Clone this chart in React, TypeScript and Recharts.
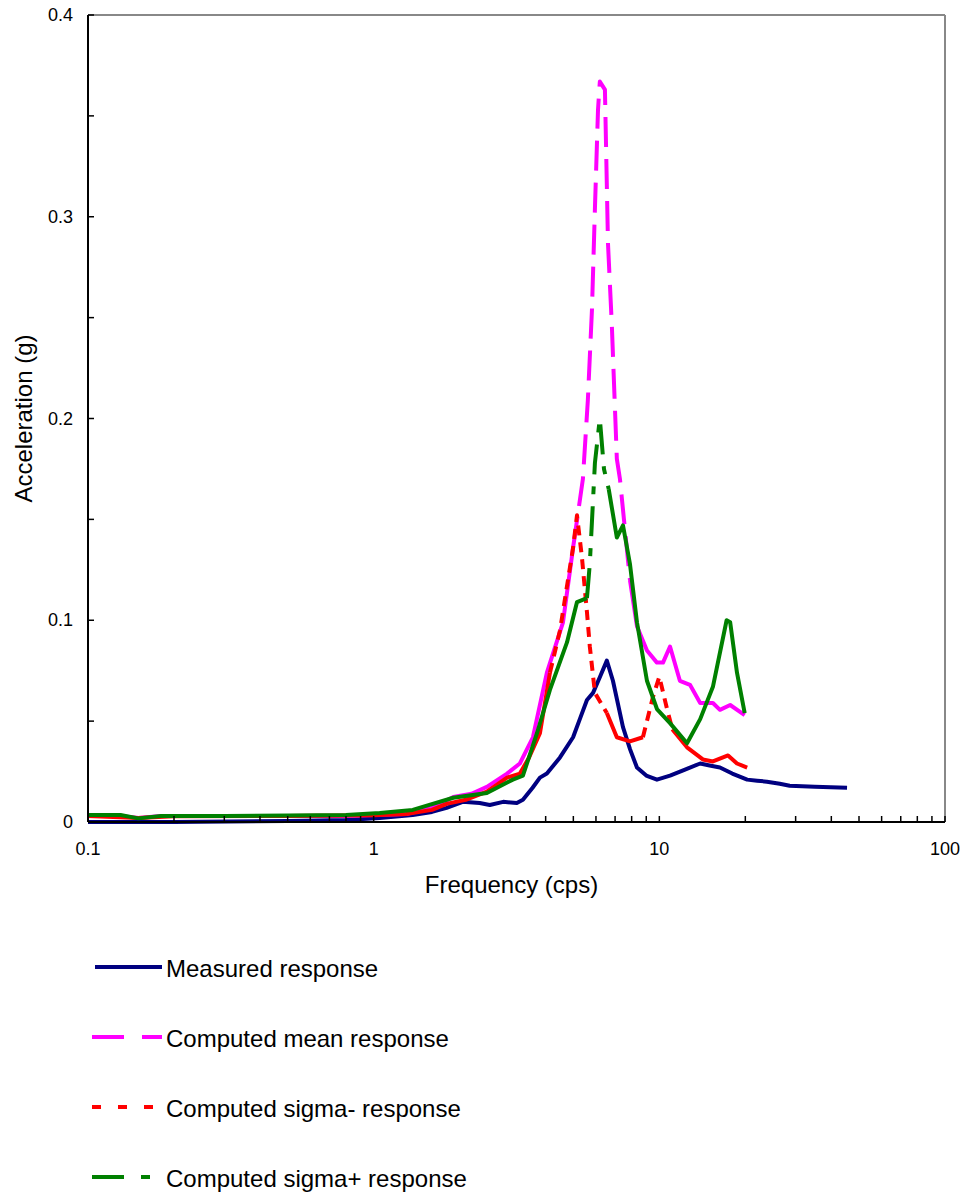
import React from "react";
import {
  LineChart,
  Line,
  XAxis,
  YAxis,
  ReferenceLine,
} from "recharts";

// frequency (cps) / acceleration (g) pairs
const measured = [
  { f: 0.1, a: 0.0 }, { f: 0.2, a: 0.0 }, { f: 0.5, a: 0.0005 }, { f: 0.8, a: 0.001 },
  { f: 1.05, a: 0.002 }, { f: 1.37, a: 0.0035 }, { f: 1.6, a: 0.005 }, { f: 1.8, a: 0.007 },
  { f: 2.05, a: 0.01 }, { f: 2.35, a: 0.0094 }, { f: 2.55, a: 0.0084 }, { f: 2.84, a: 0.01 },
  { f: 3.17, a: 0.0094 }, { f: 3.33, a: 0.011 }, { f: 3.6, a: 0.017 }, { f: 3.82, a: 0.022 },
  { f: 4.04, a: 0.024 }, { f: 4.49, a: 0.032 }, { f: 4.99, a: 0.042 }, { f: 5.3, a: 0.052 },
  { f: 5.58, a: 0.0605 }, { f: 5.86, a: 0.064 }, { f: 6.2, a: 0.072 }, { f: 6.55, a: 0.08 },
  { f: 6.88, a: 0.07 }, { f: 7.46, a: 0.047 }, { f: 7.9, a: 0.036 }, { f: 8.35, a: 0.027 },
  { f: 9.0, a: 0.023 }, { f: 9.81, a: 0.021 }, { f: 10.9, a: 0.023 }, { f: 12.3, a: 0.026 },
  { f: 13.9, a: 0.029 }, { f: 15.0, a: 0.028 }, { f: 16.3, a: 0.027 }, { f: 18.0, a: 0.024 },
  { f: 20.3, a: 0.021 }, { f: 22.0, a: 0.0205 }, { f: 23.8, a: 0.02 }, { f: 26.4, a: 0.019 },
  { f: 28.6, a: 0.018 }, { f: 35.0, a: 0.0175 }, { f: 45.4, a: 0.017 },
];

const computedMean = [
  { f: 0.1, a: 0.003 }, { f: 0.13, a: 0.003 }, { f: 0.15, a: 0.002 }, { f: 0.18, a: 0.003 },
  { f: 0.3, a: 0.003 }, { f: 0.5, a: 0.003 }, { f: 0.8, a: 0.003 }, { f: 1.0, a: 0.0035 },
  { f: 1.3, a: 0.004 }, { f: 1.6, a: 0.007 }, { f: 1.9, a: 0.0124 }, { f: 2.2, a: 0.014 },
  { f: 2.49, a: 0.0174 }, { f: 2.93, a: 0.024 }, { f: 3.25, a: 0.029 }, { f: 3.61, a: 0.042 },
  { f: 4.04, a: 0.074 }, { f: 4.6, a: 0.099 }, { f: 4.99, a: 0.136 }, { f: 5.4, a: 0.17 },
  { f: 5.62, a: 0.209 }, { f: 5.81, a: 0.254 }, { f: 5.95, a: 0.304 }, { f: 6.1, a: 0.353 },
  { f: 6.19, a: 0.367 }, { f: 6.45, a: 0.363 }, { f: 6.61, a: 0.287 }, { f: 6.82, a: 0.246 },
  { f: 7.1, a: 0.18 }, { f: 7.28, a: 0.17 }, { f: 7.89, a: 0.12 }, { f: 8.35, a: 0.097 },
  { f: 9.05, a: 0.085 }, { f: 9.81, a: 0.079 }, { f: 10.3, a: 0.079 }, { f: 10.9, a: 0.087 },
  { f: 11.8, a: 0.07 }, { f: 12.8, a: 0.068 }, { f: 13.9, a: 0.059 }, { f: 15.4, a: 0.059 },
  { f: 16.3, a: 0.0556 }, { f: 17.7, a: 0.058 }, { f: 19.9, a: 0.053 },
];

const computedSigmaMinus = [
  { f: 0.1, a: 0.003 }, { f: 0.15, a: 0.002 }, { f: 0.2, a: 0.0028 }, { f: 0.5, a: 0.003 },
  { f: 1.0, a: 0.0033 }, { f: 1.3, a: 0.004 }, { f: 1.6, a: 0.006 }, { f: 1.8, a: 0.009 },
  { f: 2.1, a: 0.011 }, { f: 2.49, a: 0.015 }, { f: 2.93, a: 0.022 }, { f: 3.25, a: 0.024 },
  { f: 3.5, a: 0.032 }, { f: 3.82, a: 0.044 }, { f: 4.14, a: 0.074 }, { f: 4.49, a: 0.095 },
  { f: 4.99, a: 0.136 }, { f: 5.15, a: 0.152 }, { f: 5.36, a: 0.131 }, { f: 5.58, a: 0.104 },
  { f: 5.71, a: 0.087 }, { f: 5.95, a: 0.064 }, { f: 6.55, a: 0.054 }, { f: 7.1, a: 0.042 },
  { f: 7.89, a: 0.04 }, { f: 8.76, a: 0.042 }, { f: 9.5, a: 0.062 }, { f: 10.0, a: 0.072 },
  { f: 10.6, a: 0.057 }, { f: 11.1, a: 0.046 }, { f: 12.5, a: 0.037 }, { f: 14.2, a: 0.031 },
  { f: 15.4, a: 0.03 }, { f: 17.4, a: 0.033 }, { f: 18.7, a: 0.029 }, { f: 20.3, a: 0.027 },
];

const computedSigmaPlus = [
  { f: 0.1, a: 0.0035 }, { f: 0.13, a: 0.0035 }, { f: 0.15, a: 0.0018 }, { f: 0.18, a: 0.003 },
  { f: 0.3, a: 0.003 }, { f: 0.5, a: 0.0032 }, { f: 0.8, a: 0.0035 }, { f: 1.05, a: 0.0045 },
  { f: 1.37, a: 0.006 }, { f: 1.9, a: 0.012 }, { f: 2.49, a: 0.0144 }, { f: 3.07, a: 0.021 },
  { f: 3.33, a: 0.023 }, { f: 3.73, a: 0.044 }, { f: 4.14, a: 0.0655 }, { f: 4.75, a: 0.089 },
  { f: 5.15, a: 0.109 }, { f: 5.58, a: 0.111 }, { f: 5.71, a: 0.128 }, { f: 5.95, a: 0.178 },
  { f: 6.19, a: 0.2 }, { f: 6.4, a: 0.175 }, { f: 6.65, a: 0.165 }, { f: 7.1, a: 0.141 },
  { f: 7.46, a: 0.147 }, { f: 7.89, a: 0.128 }, { f: 8.35, a: 0.099 }, { f: 9.05, a: 0.07 },
  { f: 9.81, a: 0.056 }, { f: 10.9, a: 0.049 }, { f: 12.5, a: 0.039 }, { f: 13.9, a: 0.051 },
  { f: 15.4, a: 0.067 }, { f: 17.2, a: 0.1 }, { f: 17.7, a: 0.099 }, { f: 18.7, a: 0.074 },
  { f: 19.9, a: 0.054 },
];

const freqMajorTicks = [0.1, 1, 10, 100];
const freqTicks = [
  0.1, 0.2, 0.3, 0.4, 0.5, 0.6, 0.7, 0.8, 0.9,
  1, 2, 3, 4, 5, 6, 7, 8, 9,
  10, 20, 30, 40, 50, 60, 70, 80, 90, 100,
];
const accMajorTicks = [0, 0.1, 0.2, 0.3, 0.4];
const accTicks = [0, 0.05, 0.1, 0.15, 0.2, 0.25, 0.3, 0.35, 0.4];

// the original's dash pattern only shows where the points are far apart,
// so the dashes are kept to these frequency spans and the rest is solid
const series = [
  { name: "Measured response", data: measured, color: "#000080", dash: undefined, legendDash: undefined, dashedSpans: [] as number[][] },
  { name: "Computed mean response", data: computedMean, color: "#ff00ff", dash: "30 12", legendDash: "32 18", dashedSpans: [[4.99, 7.89]] },
  { name: "Computed sigma- response", data: computedSigmaMinus, color: "#ff0000", dash: "10 7", legendDash: "9 17", dashedSpans: [[4.14, 6.55], [8.76, 11.1]] },
  { name: "Computed sigma+ response", data: computedSigmaPlus, color: "#008000", dash: "30 12 8 12", legendDash: "32 17 9 17", dashedSpans: [[5.58, 6.65]] },
];

type Pt = { f: number; a: number };

function splitByDash(data: Pt[], spans: number[][]) {
  const parts: { pts: Pt[]; dashed: boolean }[] = [];
  let cur: Pt[] = [];
  let curDashed = false;
  const inSpan = (i: number) => {
    if (i >= data.length - 1) return false;
    const lo = data[i].f;
    const hi = data[i + 1].f;
    return spans.some(([s, e]) => lo >= s && hi <= e);
  };
  for (let i = 0; i < data.length - 1; i++) {
    const d = inSpan(i);
    if (cur.length === 0) {
      cur = [data[i]];
      curDashed = d;
    } else if (d !== curDashed) {
      parts.push({ pts: cur, dashed: curDashed });
      cur = [data[i]];
      curDashed = d;
    }
    cur.push(data[i + 1]);
  }
  if (cur.length) parts.push({ pts: cur, dashed: curDashed });
  return parts;
}

const FONT = '"Liberation Sans", Arial, sans-serif';

const FreqTick = (props: any) => {
  const { x, y, payload } = props;
  const major = freqMajorTicks.includes(payload.value);
  return (
    <g>
      <line x1={x} x2={x} y1={y} y2={y - 6} stroke="#000" strokeWidth={1.5} />
      {major && (
        <text x={x} y={y + 33} textAnchor="middle" fontSize={18} fill="#000">
          {payload.value}
        </text>
      )}
    </g>
  );
};

const AccTick = (props: any) => {
  const { x, y, payload } = props;
  const major = accMajorTicks.some((t) => Math.abs(t - payload.value) < 1e-9);
  return (
    <g>
      <line x1={x} x2={x + 6} y1={y} y2={y} stroke="#000" strokeWidth={1.5} />
      {major && (
        <text x={x - 15} y={y + 6} textAnchor="end" fontSize={18} fill="#000">
          {payload.value}
        </text>
      )}
    </g>
  );
};

export default function App() {
  return (
    <div
      style={{
        position: "absolute",
        left: 0,
        top: 0,
        width: 968,
        height: 1195,
        background: "#fff",
        fontFamily: FONT,
      }}
    >
      <LineChart
        width={968}
        height={900}
        margin={{ top: 15, right: 23, left: 0, bottom: 0 }}
      >
        <XAxis
          dataKey="f"
          type="number"
          scale="log"
          domain={[0.1, 100]}
          allowDataOverflow
          ticks={freqTicks}
          interval={0}
          height={78}
          tickSize={0}
          tickMargin={0}
          tickLine={false}
          tick={<FreqTick />}
          axisLine={{ stroke: "#000", strokeWidth: 2 }}
          label={{
            value: "Frequency (cps)",
            position: "insideBottom",
            offset: 7,
            dx: -5,
            fontSize: 24,
            fill: "#000",
          }}
        />
        <YAxis
          dataKey="a"
          type="number"
          domain={[0, 0.4]}
          ticks={accTicks}
          interval={0}
          width={88}
          tickSize={0}
          tickMargin={0}
          tickLine={false}
          tick={<AccTick />}
          axisLine={{ stroke: "#000", strokeWidth: 2 }}
          label={{
            value: "Acceleration (g)",
            angle: -90,
            position: "insideLeft",
            offset: 23,
            fontSize: 24,
            fill: "#000",
            style: { textAnchor: "middle" },
          }}
        />
        <ReferenceLine y={0.4} stroke="#888" strokeWidth={2} />
        <ReferenceLine x={100} stroke="#888" strokeWidth={2} />
        {series.flatMap((s) =>
          splitByDash(s.data, s.dashedSpans).map((part, j) => (
            <Line
              key={`${s.name}-${j}`}
              data={part.pts}
              dataKey="a"
              name={s.name}
              type="linear"
              stroke={s.color}
              strokeWidth={4}
              strokeDasharray={part.dashed ? s.dash : undefined}
              strokeLinejoin="round"
              dot={false}
              activeDot={false}
              isAnimationActive={false}
            />
          ))
        )}
      </LineChart>
      <svg
        width={968}
        height={295}
        style={{ position: "absolute", left: 0, top: 900 }}
      >
        {series.map((s, i) => {
          const cy = 67 + i * 70;
          return (
            <g key={s.name}>
              <line
                x1={s.legendDash ? 92 : 95}
                x2={162}
                y1={cy}
                y2={cy}
                stroke={s.color}
                strokeWidth={4}
                strokeDasharray={s.legendDash}
              />
              <text x={166} y={cy + 10} fontSize={24} fill="#000">
                {s.name}
              </text>
            </g>
          );
        })}
      </svg>
    </div>
  );
}
